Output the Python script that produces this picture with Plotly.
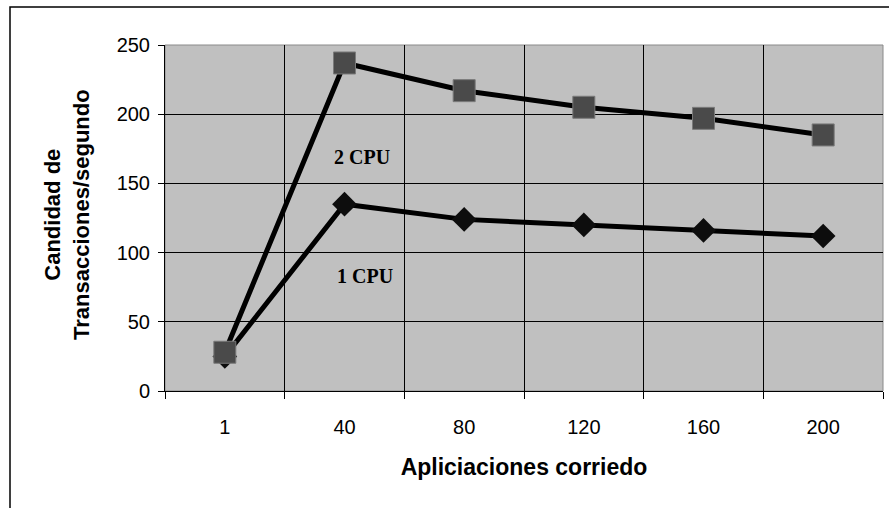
import plotly.graph_objects as go

categories = ["1", "40", "80", "120", "160", "200"]
cpu2 = [28, 237, 217, 205, 197, 185]
cpu1 = [25, 135, 124, 120, 116, 112]
y_ticks = [0, 50, 100, 150, 200, 250]

W, H = 889, 508
L, R, T, B = 165, 6, 45, 117
pw, ph = W - L - R, H - T - B

def px2paper(x, y):
    return (x - L) / pw, (H - B - y) / ph

fig = go.Figure()
fig.add_trace(go.Scatter(
    x=categories, y=cpu1, mode="lines+markers", name="1 CPU",
    line=dict(color="#000000", width=5),
    marker=dict(symbol="diamond", size=19, color="#0d0d0d", line=dict(width=0)),
))
fig.add_trace(go.Scatter(
    x=categories, y=cpu2, mode="lines+markers", name="2 CPU",
    line=dict(color="#000000", width=5),
    marker=dict(symbol="square", size=22, color="#4a4a4a", line=dict(color="#7a7a7a", width=1)),
))

axis_font = dict(family="Arial, Liberation Sans", size=20, color="#000")
fig.update_xaxes(
    type="category", tickson="boundaries", ticks="outside", ticklen=7, tickwidth=1,
    tickcolor="#000", showgrid=True, gridcolor="#000", gridwidth=1,
    showline=True, linecolor="#000", linewidth=1, tickfont=axis_font,
    ticklabelstandoff=18, range=[-0.5, 5.5],
    title=dict(text="<b>Apliciaciones corriedo</b>", font=dict(family="Arial, Liberation Sans", size=23, color="#000"), standoff=21),
)
fig.update_yaxes(
    range=[0, 250], tickvals=y_ticks, ticks="outside", ticklen=6, tickwidth=1,
    tickcolor="#000", showgrid=True, gridcolor="#000", gridwidth=1, zeroline=False,
    showline=True, linecolor="#000", linewidth=1, tickfont=axis_font,
    ticklabelstandoff=4,
)

annotations = [
    dict(x=1.15, y=169, xref="x", yref="y", text="<b>2 CPU</b>", showarrow=False,
         font=dict(family="Liberation Serif, Times New Roman", size=20, color="#000")),
    dict(x=1.17, y=83, xref="x", yref="y", text="<b>1 CPU</b>", showarrow=False,
         font=dict(family="Liberation Serif, Times New Roman", size=20, color="#000")),
]
yt_x, yt_y = px2paper(67, 215)
annotations.append(dict(x=yt_x, y=yt_y, xref="paper", yref="paper", textangle=-90,
    xanchor="center", yanchor="middle",
    text="<b>Candidad de<br>Transacciones/segundo</b>", showarrow=False,
    font=dict(family="Arial, Liberation Sans", size=22, color="#000")))

x0, y0 = px2paper(10, 7)
x1, y1 = px2paper(900, 520)
shapes = [
    dict(type="rect", xref="paper", yref="paper", x0=x0, y0=y1, x1=x1, y1=y0,
         line=dict(color="#000", width=1.5), fillcolor="rgba(0,0,0,0)", layer="below"),
    dict(type="rect", xref="paper", yref="paper", x0=0, y0=0, x1=1, y1=1,
         line=dict(color="#8a8a8a", width=1), fillcolor="rgba(0,0,0,0)", layer="below"),
]

fig.update_layout(
    width=W, height=H, margin=dict(l=L, r=R, t=T, b=B),
    paper_bgcolor="#ffffff", plot_bgcolor="#c0c0c0",
    showlegend=False, annotations=annotations, shapes=shapes,
)
fig.write_html("out.html")
